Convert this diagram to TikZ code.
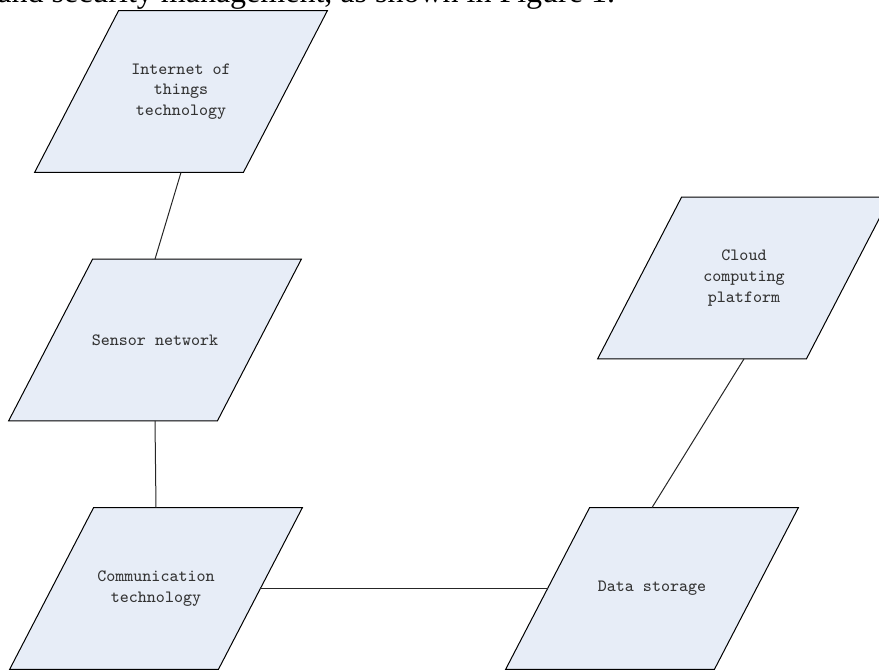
\documentclass[tikz,border=0pt]{standalone}
\usepackage{fontspec}
\newfontfamily\captionfont{Liberation Serif}
\usetikzlibrary{backgrounds,calc}
\definecolor{boxblue}{RGB}{231,237,247}

\begin{document}
\begin{tikzpicture} [x=0.5pt, y=-0.5pt]
    \tikzstyle{every node} = [align=center, font=\ttfamily\fontsize{8.6}{10.3}\selectfont, text=black!80]
    \tikzstyle{block} = [rectangle, minimum width=104pt, minimum height=80.5pt, inner sep=0pt]
    \tikzstyle{panel} = [draw=black, fill=boxblue, line width=0.5pt, line join=miter]
    \tikzstyle{link} = [draw=black!85, line width=0.5pt]
    \useasboundingbox (0,0) rectangle (879,671);
    \clip (0,0) rectangle (879,671);
    % cut-off line of the page text above the figure
    \node [anchor=base west, inner sep=0pt, font=\captionfont\fontsize{16}{18}\selectfont, text=black] (caption) at (-3,2.5) {and security management, as shown in Figure 1.};
    \node [block] (iot) at (181,91.5) {Internet of \\ things \\ technology};
    \node [block] (sensor) at (155,340) {Sensor network};
    \node [block] (comm) at (156,588.5) {Communication \\ technology};
    \node [block] (storage) at (652,588.5) {Data storage};
    \node [block] (cloud) at (744,278) {Cloud \\ computing \\ platform};
    % slanted outlines behind the labels
    \begin{scope}[on background layer]
        \foreach \n in {iot,sensor,comm,storage,cloud}
            \path [panel] ($(\n.south west)+(-42,0)$) -- ($(\n.south east)+(-42,0)$)
                -- ($(\n.north east)+(42,0)$) -- ($(\n.north west)+(42,0)$) -- cycle;
    \end{scope}
    \draw [link] (iot.south) -- (sensor.north);
    \draw [link] (sensor.south) -- (comm.north);
    \draw [link] (comm.east) -- (storage.west);
    \draw [link] (storage.north) -- (cloud.south);
\end{tikzpicture}
\end{document}
